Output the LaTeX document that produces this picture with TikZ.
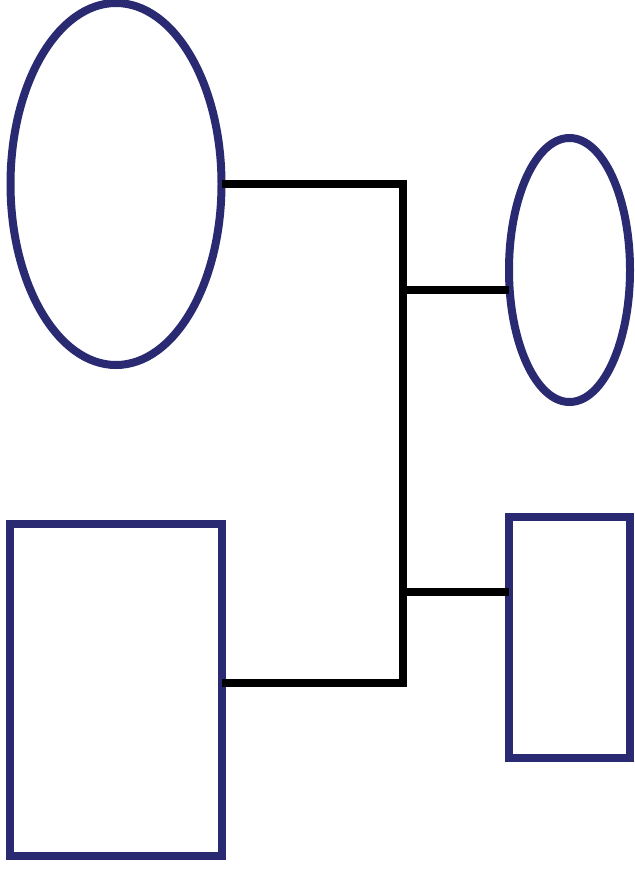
\documentclass[tikz,border=0pt]{standalone}
\usetikzlibrary{shapes.geometric}
\definecolor{navy}{RGB}{42,42,115}
\begin{document}
\begin{tikzpicture}[
  x=0.2mm, y=-0.2mm,
  shp/.style={draw=navy, line width=1.6mm, inner sep=0pt, outer sep=0pt},
  oval/.style={shp, ellipse},
  box/.style={shp, rectangle},
  wire/.style={draw=black, line width=1.6mm, line join=miter}
]
  \useasboundingbox (0,0) rectangle (634,870);

  \node[oval, minimum width=4.22cm, minimum height=7.24cm] (big) at (116,184) {};
  \node[oval, minimum width=2.42cm, minimum height=5.28cm] (small) at (569.5,270) {};
  \node[box, minimum width=4.22cm, minimum height=6.64cm] (tall) at (116,689.5) {};
  \node[box, minimum width=2.42cm, minimum height=4.82cm] (short) at (569.5,637.5) {};

  %% bus points
  \coordinate (bustop) at (402.5,184);
  \coordinate (busbot) at (402.5,683);
  \coordinate (tapa) at (402.5,290);
  \coordinate (tapb) at (402.5,592);

  %% left side, through the bus
  \draw[wire] (big.east) -- (bustop) -- (busbot) -- (busbot -| tall.east);

  %% right side taps
  \draw[wire] (tapa) -- (tapa -| small.west);
  \draw[wire] (tapb) -- (tapb -| short.west);
\end{tikzpicture}
\end{document}
